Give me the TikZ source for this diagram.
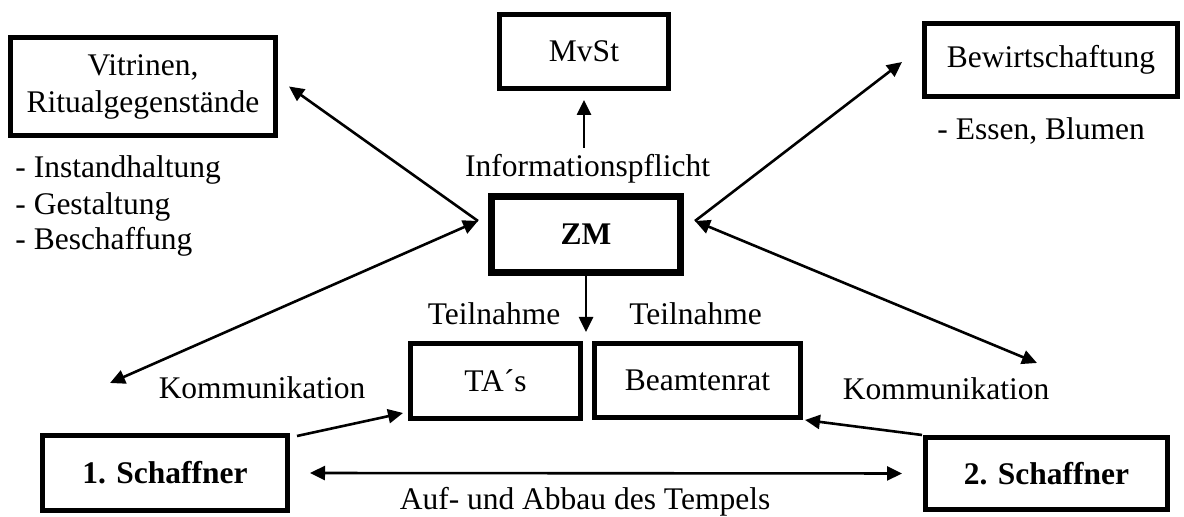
\documentclass[tikz,border=0pt]{standalone}
\usepackage{fontspec}
\setmainfont{Liberation Serif}
\usetikzlibrary{arrows.meta}

\begin{document}
\begin{tikzpicture}[x=0.5pt, y=-0.5pt,
  font=\fontsize{15.75}{18.5}\selectfont,
  box/.style 2 args={draw, line width=2.5pt, inner sep=0pt, align=center,
    minimum width=#1, minimum height=#2},
  thickbox/.style 2 args={box={#1}{#2}, line width=3.5pt, font=\fontsize{15.75}{18.5}\selectfont\bfseries},
  lbl/.style={inner sep=0pt},
  arr/.style={-{Triangle[length=7.5pt,width=7pt]}, line width=1.3pt},
  darr/.style={{Triangle[length=7.5pt,width=7pt]}-{Triangle[length=7.5pt,width=7pt]}, line width=1.3pt}]
\useasboundingbox (0,0) rectangle (1184,517);
\node[box={132.5pt}{49pt}] (vit) at (143,86.5) {Vitrinen,\\Ritualgegenstände};
\node[box={84.5pt}{37pt}] (mvst) at (584,51.5) {MvSt};
\node[thickbox={94.5pt}{38pt}] (zm) at (586,234.5) {ZM};
\node[box={126.5pt}{36.5pt}] (bew) at (1051,60) {Bewirtschaftung};
\node[box={85pt}{37.5pt}] (tas) at (495.5,381) {TA´s};
\node[box={103pt}{37pt}] (beamt) at (697.5,380.5) {Beamtenrat};
\node[box={122.5pt}{37.5pt}, font=\fontsize{15.75}{18.5}\selectfont\bfseries] (s1) at (165,473) {1. Schaffner};
\node[box={121pt}{36pt}, font=\fontsize{15.75}{18.5}\selectfont\bfseries] (s2) at (1046.5,473.5) {2. Schaffner};
\node[lbl, anchor=base west] (inst) at (15,178) {- Instandhaltung};
\node[lbl, anchor=base west] (gest) at (15,215) {- Gestaltung};
\node[lbl, anchor=base west] (besch) at (15,250) {- Beschaffung};
\node[lbl, anchor=base west] (essen) at (937,140) {- Essen, Blumen};
\node[lbl, anchor=base] (info) at (587.5,177) {Informationspflicht};
\node[lbl, anchor=base] (teilL) at (494,325) {Teilnahme};
\node[lbl, anchor=base] (teilR) at (695.5,325) {Teilnahme};
\node[lbl, anchor=base] (kommL) at (262,399) {Kommunikation};
\node[lbl, anchor=base] (kommR) at (946,400) {Kommunikation};
\node[lbl, anchor=base] (auf) at (585,510) {Auf- und Abbau des Tempels};
\coordinate (zmL) at ([xshift=-5pt,yshift=6.75pt]zm.west);
\coordinate (zmR) at ([xshift=5.5pt,yshift=6.75pt]zm.east);
\coordinate (tipL) at (110,383);
\coordinate (tipR) at (1037,363);
\coordinate (infotop) at (584,148);
\coordinate (gap) at (586,332);
\draw[arr, shorten >=4.5pt] (infotop) -- (mvst.south);
\draw[arr] (zm.south) -- (gap);
\draw[arr] (zmL) -- ([xshift=5.5pt]vit.east);
\draw[darr] (tipL) -- (zmL);
\draw[arr] (zmR) -- ([xshift=-10pt,yshift=-1pt]bew.west);
\draw[darr] (zmR) -- (tipR);
\draw[arr] ([xshift=3.5pt,yshift=-1.5pt]s1.north east) -- ([xshift=-2.5pt,yshift=4pt]tas.south west);
\draw[arr] ([xshift=-0.5pt]s2.north west) -- ([xshift=1pt]beamt.south east);
\draw[darr, shorten <=10pt, shorten >=10.5pt] (s1.east) -- (s2.west);
\end{tikzpicture}
\end{document}
